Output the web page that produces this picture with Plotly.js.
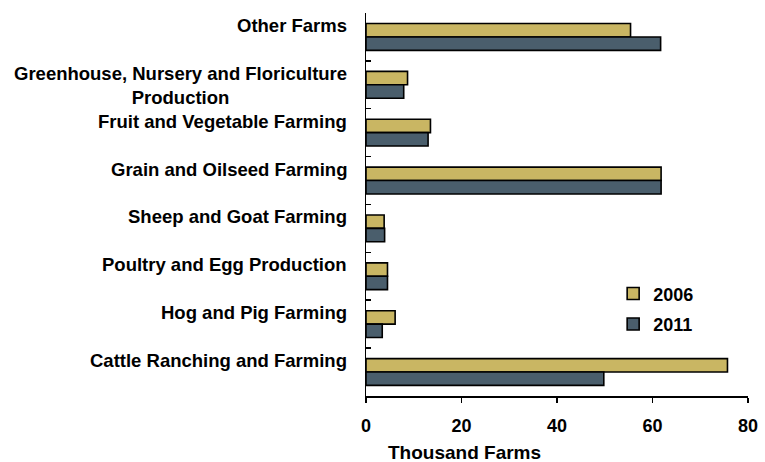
<!DOCTYPE html>
<html>
<head>
<meta charset="utf-8">
<script src="https://cdn.plot.ly/plotly-3.0.1.min.js"></script>
<style>
  html, body { margin: 0; padding: 0; background: #ffffff; }
  #chart { width: 765px; height: 462px; }
</style>
</head>
<body>
<div id="chart"></div>
<script>
// Farm types, listed top to bottom
const farmTypes = [
  "Other Farms",
  "Greenhouse, Nursery and Floriculture<br>Production",
  "Fruit and Vegetable Farming",
  "Grain and Oilseed Farming",
  "Sheep and Goat Farming",
  "Poultry and Egg Production",
  "Hog and Pig Farming",
  "Cattle Ranching and Farming"
];

// Number of farms, thousands
const farms2006 = [55.4, 8.7, 13.5, 61.8, 3.8, 4.5, 6.1, 75.7];
const farms2011 = [61.7, 7.9, 13.0, 61.8, 3.9, 4.5, 3.4, 49.8];

const xTicks = [0, 20, 40, 60, 80];
const xTitle = "Thousand Farms";

const FONT = "Liberation Sans, Arial, sans-serif";
const GOLD = "#c9b663";
const SLATE = "#4a5e6c";

const traces = [
  {
    type: "bar", orientation: "h", name: "2006", legendgroup: "a",
    y: farmTypes, x: farms2006,
    marker: { color: GOLD, line: { color: "#000000", width: 1.6 } },
    hoverinfo: "skip"
  },
  {
    type: "bar", orientation: "h", name: "2011", legendgroup: "b",
    y: farmTypes, x: farms2011,
    marker: { color: SLATE, line: { color: "#000000", width: 1.6 } },
    hoverinfo: "skip"
  }
];

// Category labels: right-aligned block, lines centred, first line sitting above the group centre
const labelNotes = farmTypes.map(name => ({
  xref: "paper", yref: "y",
  x: 0, y: name,
  xanchor: "right", yanchor: "top",
  xshift: -17, yshift: 24,
  align: "center",
  showarrow: false,
  text: "<b>" + name + "</b>",
  font: { family: FONT, size: 18.5, color: "#000000" }
}));

const titleNote = {
  xref: "paper", yref: "paper",
  x: 0.259, y: -0.148,
  xanchor: "center", yanchor: "middle",
  showarrow: false,
  text: "<b>" + xTitle + "</b>",
  font: { family: FONT, size: 19, color: "#000000" }
};

const layout = {
  width: 765, height: 462,
  margin: { l: 366, r: 17, t: 13, b: 66 },
  paper_bgcolor: "#ffffff",
  plot_bgcolor: "#ffffff",
  barmode: "group",
  bargap: 0.44,
  bargroupgap: 0,
  font: { family: FONT, size: 18, color: "#000000" },
  showlegend: true,
  legend: {
    x: 0.647, y: 0.315, xanchor: "left", yanchor: "top",
    traceorder: "grouped",
    tracegroupgap: 4,
    itemwidth: 30,
    bgcolor: "rgba(0,0,0,0)",
    font: { family: FONT, size: 18, color: "#000000", weight: "bold" }
  },
  xaxis: {
    range: [0, 80],
    tickvals: xTicks,
    ticktext: xTicks.map(v => "<b>" + v + "</b>"),
    ticks: "outside", ticklen: 5, tickwidth: 1.5, tickcolor: "#000000",
    ticklabelstandoff: 8,
    showline: true, linecolor: "#000000", linewidth: 1.5,
    showgrid: false, zeroline: false,
    tickfont: { family: FONT, size: 18, color: "#000000" },
    fixedrange: true
  },
  yaxis: {
    type: "category",
    autorange: "reversed",
    tickson: "boundaries",
    ticks: "inside", ticklen: 5, tickwidth: 1.5, tickcolor: "#000000",
    showticklabels: false,
    showline: true, linecolor: "#000000", linewidth: 1.5,
    showgrid: false, zeroline: false,
    fixedrange: true
  },
  annotations: labelNotes.concat([titleNote])
};

Plotly.newPlot("chart", traces, layout, { displayModeBar: false, staticPlot: true });
</script>
</body>
</html>
